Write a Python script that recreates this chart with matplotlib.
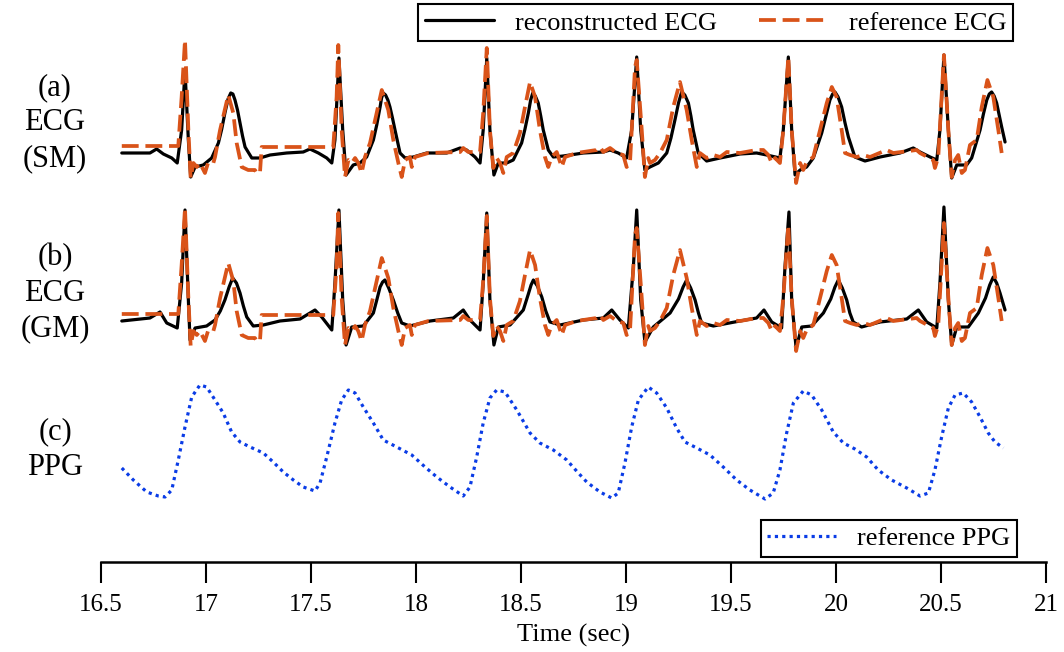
from matplotlib import pyplot as plt
import numpy as np

# reconstructed ECG, subject model (a)
t_sm = [16.599, 16.733, 16.765, 16.797, 16.837, 16.863, 16.884, 16.900, 16.916, 16.927, 16.948, 16.987, 17.027,
        17.059, 17.075, 17.090, 17.105, 17.118, 17.128, 17.138, 17.150, 17.162, 17.174, 17.186, 17.218, 17.257,
        17.305, 17.384, 17.463, 17.495, 17.535, 17.575, 17.599, 17.614, 17.633, 17.651, 17.667, 17.701, 17.733,
        17.765, 17.797, 17.813, 17.829, 17.836, 17.844, 17.855, 17.866, 17.876, 17.888, 17.900, 17.924, 17.948,
        17.987, 18.051, 18.146, 18.210, 18.241, 18.281, 18.305, 18.320, 18.337, 18.352, 18.371, 18.392, 18.432,
        18.463, 18.503, 18.519, 18.535, 18.546, 18.556, 18.568, 18.582, 18.594, 18.606, 18.630, 18.654, 18.701,
        18.797, 18.892, 18.924, 18.963, 19.003, 19.027, 19.051, 19.070, 19.090, 19.114, 19.154, 19.194, 19.214,
        19.233, 19.250, 19.265, 19.280, 19.297, 19.309, 19.320, 19.344, 19.384, 19.448, 19.543, 19.622, 19.670,
        19.733, 19.749, 19.773, 19.789, 19.805, 19.829, 19.860, 19.892, 19.932, 19.952, 19.971, 19.984, 19.995,
        20.010, 20.027, 20.043, 20.059, 20.090, 20.138, 20.210, 20.305, 20.368, 20.400, 20.448, 20.480, 20.495,
        20.514, 20.535, 20.551, 20.575, 20.622, 20.646, 20.686, 20.702, 20.718, 20.730, 20.741, 20.753, 20.765,
        20.777, 20.789, 20.805]
v_sm = [0.00, 0.00, 0.04, -0.01, -0.05, -0.10, 0.23, 0.83, 0.13, -0.24, -0.14, -0.12, -0.05,
        0.10, 0.24, 0.40, 0.54, 0.60, 0.59, 0.53, 0.43, 0.30, 0.17, 0.06, -0.05, -0.05,
        -0.02, 0.00, 0.01, 0.04, 0.00, -0.05, -0.10, 0.13, 0.95, 0.23, -0.22, -0.12, -0.10,
        -0.04, 0.13, 0.28, 0.46, 0.55, 0.60, 0.58, 0.53, 0.46, 0.35, 0.23, 0.00, -0.05,
        -0.04, 0.00, 0.00, 0.05, 0.03, -0.04, -0.10, 0.23, 0.95, 0.23, -0.22, -0.10, -0.10,
        -0.07, 0.10, 0.24, 0.40, 0.53, 0.60, 0.57, 0.50, 0.37, 0.23, 0.03, -0.04, -0.03,
        0.00, 0.01, 0.03, 0.00, -0.05, 0.23, 0.96, 0.23, -0.17, -0.14, -0.10, 0.00, 0.15,
        0.33, 0.50, 0.61, 0.58, 0.50, 0.37, 0.23, 0.00, -0.08, -0.05, -0.01, 0.00, -0.02,
        -0.05, 0.23, 0.96, 0.23, -0.22, -0.17, -0.14, -0.05, 0.20, 0.37, 0.53, 0.59, 0.61,
        0.56, 0.46, 0.30, 0.16, -0.04, -0.08, -0.04, 0.00, 0.05, 0.01, -0.04, -0.07, 0.23,
        0.98, 0.23, -0.25, -0.12, -0.12, -0.05, 0.23, 0.39, 0.53, 0.59, 0.61, 0.57, 0.50,
        0.38, 0.26, 0.11]

# reconstructed ECG, generic model (b)
t_gm = [16.599, 16.733, 16.781, 16.813, 16.863, 16.884, 16.900, 16.916, 16.924, 16.948, 17.003, 17.043, 17.068,
        17.090, 17.110, 17.127, 17.145, 17.162, 17.178, 17.194, 17.225, 17.273, 17.352, 17.448, 17.519, 17.551,
        17.599, 17.614, 17.633, 17.651, 17.667, 17.694, 17.749, 17.797, 17.812, 17.829, 17.841, 17.852, 17.870,
        17.892, 17.913, 17.932, 17.971, 18.067, 18.178, 18.225, 18.257, 18.305, 18.320, 18.337, 18.352, 18.371,
        18.392, 18.448, 18.511, 18.535, 18.548, 18.559, 18.578, 18.599, 18.618, 18.638, 18.686, 18.797, 18.892,
        18.932, 18.971, 19.011, 19.035, 19.051, 19.070, 19.090, 19.130, 19.210, 19.250, 19.272, 19.289, 19.308,
        19.329, 19.345, 19.360, 19.416, 19.543, 19.622, 19.657, 19.694, 19.741, 19.757, 19.776, 19.789, 19.810,
        19.837, 19.884, 19.940, 19.975, 19.995, 20.011, 20.030, 20.051, 20.066, 20.082, 20.122, 20.210, 20.337,
        20.392, 20.432, 20.480, 20.495, 20.514, 20.535, 20.551, 20.575, 20.630, 20.678, 20.712, 20.732, 20.749,
        20.765, 20.781, 20.805]
v_gm = [0.00, 0.03, 0.09, -0.02, -0.07, 0.38, 1.11, 0.21, -0.19, -0.07, -0.05, 0.01, 0.10,
        0.21, 0.34, 0.43, 0.38, 0.28, 0.15, 0.04, -0.05, -0.04, 0.00, 0.02, 0.11, 0.04,
        -0.09, 0.38, 1.11, 0.21, -0.24, -0.06, -0.05, 0.08, 0.20, 0.34, 0.39, 0.41, 0.33,
        0.21, 0.08, -0.02, -0.05, 0.00, 0.03, 0.11, 0.01, -0.09, 0.38, 1.08, 0.21, -0.24,
        -0.06, -0.04, 0.11, 0.27, 0.36, 0.41, 0.35, 0.24, 0.10, -0.01, -0.04, 0.01, 0.03,
        0.11, 0.01, -0.07, 0.54, 1.11, 0.21, -0.21, -0.06, 0.08, 0.22, 0.34, 0.41, 0.33,
        0.21, 0.08, -0.02, -0.05, 0.00, 0.03, 0.11, -0.01, -0.07, 0.54, 1.09, 0.21, -0.27,
        -0.06, -0.05, 0.08, 0.22, 0.34, 0.41, 0.33, 0.21, 0.08, -0.01, -0.06, -0.01, 0.02,
        0.11, -0.01, -0.07, 0.38, 1.14, 0.21, -0.24, -0.06, -0.06, 0.08, 0.23, 0.36, 0.44,
        0.38, 0.28, 0.11]

# reference ECG (same signal in (a) and (b))
t_ref = [16.599, 16.868, 16.884, 16.900, 16.916, 16.927, 16.940, 16.956, 16.971, 16.995, 17.011, 17.035, 17.043,
         17.067, 17.106, 17.130, 17.146, 17.170, 17.201, 17.233, 17.241, 17.257, 17.265, 17.606, 17.622, 17.630,
         17.646, 17.662, 17.678, 17.694, 17.710, 17.725, 17.741, 17.757, 17.781, 17.837, 17.868, 17.892, 17.916,
         17.932, 17.948, 17.971, 17.980, 17.995, 18.059, 18.210, 18.225, 18.249, 18.305, 18.320, 18.337, 18.352,
         18.368, 18.384, 18.400, 18.416, 18.432, 18.463, 18.495, 18.519, 18.543, 18.567, 18.590, 18.614, 18.630,
         18.646, 18.670, 18.694, 18.710, 18.765, 18.860, 18.876, 18.892, 18.924, 18.956, 18.987, 19.003, 19.019,
         19.043, 19.051, 19.075, 19.090, 19.106, 19.114, 19.138, 19.162, 19.194, 19.225, 19.257, 19.289, 19.313,
         19.337, 19.352, 19.384, 19.416, 19.448, 19.480, 19.543, 19.622, 19.654, 19.678, 19.694, 19.710, 19.733,
         19.749, 19.773, 19.789, 19.810, 19.829, 19.844, 19.860, 19.892, 19.924, 19.956, 19.980, 20.003, 20.027,
         20.043, 20.067, 20.099, 20.130, 20.162, 20.241, 20.273, 20.384, 20.400, 20.463, 20.471, 20.487, 20.514,
         20.535, 20.551, 20.567, 20.582, 20.599, 20.614, 20.638, 20.670, 20.694, 20.721, 20.749, 20.773, 20.789]
v_ref = [0.07, 0.07, 0.56, 1.13, 0.23, -0.25, -0.10, -0.14, -0.10, -0.20, -0.09, -0.10, -0.04,
         0.23, 0.58, 0.40, 0.10, -0.14, -0.17, -0.17, -0.20, -0.20, 0.06, 0.06, 0.56, 1.08,
         0.23, -0.24, -0.07, -0.10, -0.05, -0.10, -0.20, -0.04, 0.10, 0.63, 0.43, 0.13, -0.10,
         -0.24, -0.07, -0.04, -0.14, -0.04, 0.00, 0.01, 0.05, 0.01, 0.01, 0.40, 1.05, 0.23,
         -0.15, -0.05, -0.10, -0.20, -0.04, 0.00, 0.20, 0.46, 0.71, 0.56, 0.23, -0.04, -0.14,
         -0.04, 0.01, -0.14, -0.04, 0.00, 0.03, 0.06, 0.01, 0.05, 0.00, -0.02, -0.14, -0.10,
         0.86, 0.93, 0.23, -0.24, -0.05, -0.10, -0.07, 0.00, 0.13, 0.46, 0.71, 0.43, 0.13,
         -0.14, 0.00, -0.05, -0.02, -0.04, 0.01, 0.00, 0.03, 0.03, -0.02, -0.10, -0.05, -0.10,
         0.23, 0.96, 0.23, -0.30, -0.10, -0.17, -0.09, -0.04, 0.23, 0.50, 0.66, 0.56, 0.23,
         0.00, -0.02, -0.04, -0.02, -0.04, 0.03, 0.00, 0.03, 0.00, -0.07, -0.15, -0.04, 0.98,
         0.23, -0.24, -0.07, -0.02, -0.20, -0.17, 0.08, 0.13, 0.46, 0.73, 0.56, 0.23, 0.00]

# reference PPG (c)
t_ppg = [16.599, 16.654, 16.718, 16.773, 16.805, 16.837, 16.868, 16.900, 16.932, 16.971, 17.003, 17.043, 17.082,
         17.122, 17.162, 17.210, 17.273, 17.320, 17.368, 17.416, 17.463, 17.519, 17.543, 17.575, 17.614, 17.646,
         17.678, 17.710, 17.749, 17.797, 17.844, 17.908, 17.980, 18.043, 18.099, 18.162, 18.225, 18.257, 18.289,
         18.320, 18.352, 18.384, 18.424, 18.480, 18.543, 18.590, 18.654, 18.718, 18.773, 18.813, 18.876, 18.932,
         18.963, 18.995, 19.027, 19.059, 19.106, 19.146, 19.194, 19.241, 19.281, 19.337, 19.400, 19.463, 19.527,
         19.590, 19.662, 19.701, 19.733, 19.765, 19.797, 19.844, 19.884, 19.932, 19.987, 20.035, 20.090, 20.146,
         20.201, 20.265, 20.337, 20.400, 20.440, 20.471, 20.503, 20.535, 20.567, 20.606, 20.646, 20.686, 20.725,
         20.757, 20.797]
v_ppg = [0.29, 0.17, 0.05, 0.01, 0.00, 0.07, 0.37, 0.70, 1.00, 1.12, 1.10, 0.97, 0.84,
         0.65, 0.55, 0.50, 0.44, 0.35, 0.25, 0.17, 0.10, 0.06, 0.14, 0.40, 0.74, 0.97,
         1.07, 1.04, 0.90, 0.74, 0.57, 0.50, 0.42, 0.30, 0.20, 0.10, 0.01, 0.10, 0.40,
         0.74, 0.99, 1.07, 1.05, 0.87, 0.64, 0.54, 0.47, 0.37, 0.24, 0.15, 0.05, -0.01,
         0.04, 0.34, 0.70, 0.97, 1.10, 1.04, 0.89, 0.69, 0.55, 0.49, 0.42, 0.30, 0.17,
         0.07, -0.02, 0.04, 0.27, 0.64, 0.94, 1.06, 1.02, 0.87, 0.65, 0.54, 0.48, 0.40,
         0.27, 0.17, 0.09, 0.01, 0.04, 0.27, 0.60, 0.89, 1.02, 1.04, 0.95, 0.80, 0.64,
         0.55, 0.49]

xticks = [16.5, 17, 17.5, 18, 18.5, 19, 19.5, 20, 20.5, 21]
xticklabels = ['16.5', '17', '17.5', '18', '18.5', '19', '19.5', '20', '20.5', '21']
row_labels = ['(a)\nECG\n(SM)', '(b)\nECG\n(GM)', '(c)\nPPG']


def make_plot():
    plt.rcParams['font.family'] = ['Liberation Serif', 'DejaVu Serif']
    orange = '#d95319'
    blue = '#0a3ce6'
    off_a, off_b, off_c = -1.53, -3.21, -4.97  # vertical stacking of the three traces

    fig = plt.figure(figsize=(10.64, 6.52), dpi=100)
    ax = fig.add_axes([101 / 1064, 90 / 652, 945 / 1064, 562 / 652])

    kw_k = dict(color='k', lw=2.3, solid_joinstyle='round', solid_capstyle='round')
    kw_o = dict(color=orange, lw=2.7, ls=(0, (4.5, 1.8)), dash_joinstyle='round')
    ax.plot(t_sm, np.array(v_sm) + off_a, label='reconstructed ECG', **kw_k)
    ax.plot(t_ref, np.array(v_ref) + off_a, label='reference ECG', **kw_o)
    ax.plot(t_gm, np.array(v_gm) + off_b, **kw_k)
    ax.plot(t_ref, np.array(v_ref) + off_b, **kw_o)
    ppg_line, = ax.plot(t_ppg, np.array(v_ppg) + off_c, color=blue, lw=2.3, ls=(0, (1, 1.3)),
                        label='reference PPG')

    for lab, y in zip(row_labels, [-1.23, -2.93, -4.50]):
        ax.text(16.281, y, lab, ha='center', va='center', fontsize=22, linespacing=1.3, clip_on=False)

    ax.set_xlim(16.5, 21)
    ax.set_ylim(-5.62, 0)
    ax.set_xticks(xticks)
    ax.set_xticklabels(xticklabels, fontsize=18)
    ax.set_yticks([])
    ax.tick_params(axis='x', direction='out', length=15, width=1.5, pad=8)
    for s in ['top', 'right', 'left']:
        ax.spines[s].set_visible(False)
    ax.spines['bottom'].set_linewidth(1.8)
    ax.set_xlabel('Time (sec)', fontsize=19, labelpad=6)
    ax.patch.set_alpha(0)

    h, l = ax.get_legend_handles_labels()
    leg1 = ax.legend(h[:2], l[:2], ncol=2, loc='upper right', bbox_to_anchor=(0.965, 0.992),
                     fontsize=19, frameon=True, fancybox=False, edgecolor='k', framealpha=1,
                     handlelength=2.6, handletextpad=0.8, columnspacing=1.6, borderpad=0.25,
                     borderaxespad=0)
    leg1.get_frame().set_linewidth(1.5)
    ax.add_artist(leg1)
    leg2 = ax.legend([ppg_line], ['reference PPG'], loc='upper right', bbox_to_anchor=(0.969, 0.075),
                     fontsize=19, frameon=True, fancybox=False, edgecolor='k', framealpha=1,
                     handlelength=2.6, handletextpad=0.8, borderpad=0.25, borderaxespad=0)
    leg2.get_frame().set_linewidth(1.5)

    fig.savefig('out.png', dpi=100)


if __name__ == "__main__":
    make_plot()
